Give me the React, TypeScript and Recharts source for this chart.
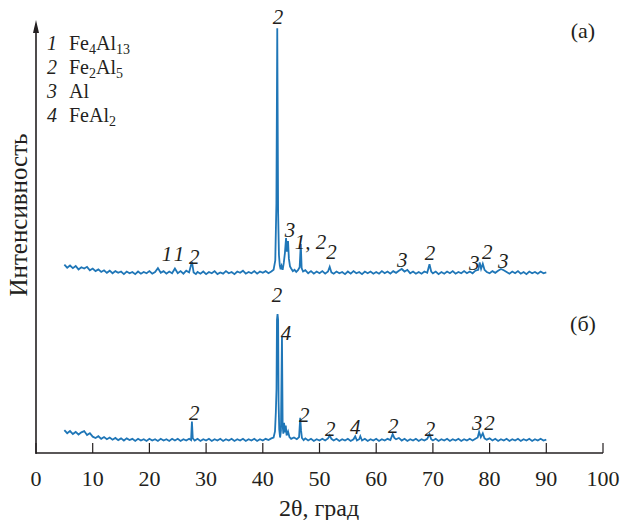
import React from "react";
import { LineChart, Line, XAxis, YAxis, ReferenceDot } from "recharts";

// 2θ (deg) and intensity (arb. units)
const traceA: [number, number][] = [
  [5,43.8],[5.5,43.1],[6,43.6],[6.5,43.0],[7,43.5],[7.5,42.7],[8,43.2],[8.5,42.9],[9,43.3],[9.5,42.5],[10,42.9],[10.5,42.3],[11,42.7],[11.5,42.1],[12,42.5],[12.5,41.9],[13,42.4],[13.5,41.8],[14,42.3],[14.5,41.9],[15,42.2],[15.5,41.6],[16,42.2],[16.5,41.8],[17,42.1],[17.5,41.6],[18,42.2],[18.5,41.7],[19,42.1],[19.5,41.8],[20,42.3],[20.5,41.7],[21,42.1],[21.5,43.0],[22,41.9],[22.5,42.3],[23,41.7],[23.5,42.2],[24,41.8],[24.5,42.9],[25,41.8],[25.5,42.3],[26,41.7],[26.5,42.4],[27,42.0],[27.5,44.5],[27.8,42.0],[28.2,41.6],[28.5,42.1],[29,41.7],[29.5,42.2],[30,41.6],[30.5,42.1],[31,41.8],[31.5,42.3],[32,41.6],[32.5,42.0],[33,41.7],[33.5,42.3],[34,41.8],[34.5,42.1],[35,41.6],[35.5,42.2],[36,41.9],[36.5,42.4],[37,41.7],[37.5,42.1],[38,41.8],[38.5,42.3],[39,41.7],[39.5,42.2],[40,41.9],[40.5,42.3],[41,41.8],[41.5,42.2],[41.9,42.6],[42.2,44.8],[42.4,58],[42.55,98.8],[42.7,56],[42.85,46],[43.0,43.6],[43.15,42.7],[43.3,43.5],[43.5,42.6],[43.7,44.2],[43.9,46.5],[44.1,50.0],[44.25,46.8],[44.45,49.3],[44.6,45.2],[44.8,43.4],[45.0,42.9],[45.3,42.3],[45.6,42.6],[45.9,42.1],[46.2,42.5],[46.5,43.2],[46.7,48.6],[46.85,43.0],[47.1,42.2],[47.5,42.5],[48,41.8],[48.5,42.3],[49,41.7],[49.5,42.2],[50,41.8],[50.5,42.3],[51,41.7],[51.5,42.2],[51.8,43.3],[52.1,42.0],[52.5,41.7],[53,42.2],[53.5,41.8],[54,42.1],[54.5,41.6],[55,42.2],[55.5,41.7],[56,42.3],[56.5,41.8],[57,42.1],[57.5,41.6],[58,42.2],[58.5,41.8],[59,42.2],[59.5,41.7],[60,42.1],[60.5,41.7],[61,42.3],[61.5,41.8],[62,42.2],[62.5,41.7],[63,42.3],[63.5,41.9],[64,42.4],[64.5,42.8],[65,42.2],[65.5,42.6],[66,41.8],[66.5,42.2],[67,41.7],[67.5,42.1],[68,41.7],[68.5,42.2],[69,41.9],[69.4,43.9],[69.7,42.2],[70,41.8],[70.5,42.2],[71,41.6],[71.5,42.1],[72,41.7],[72.5,42.2],[73,41.8],[73.5,42.3],[74,41.7],[74.5,42.1],[75,41.8],[75.5,42.3],[76,41.8],[76.5,42.2],[77,41.8],[77.5,42.4],[78,42.6],[78.25,44.3],[78.5,42.8],[78.8,44.0],[79.1,42.6],[79.5,42.1],[80,41.8],[80.5,42.3],[81,41.9],[81.5,42.4],[82,42.8],[82.5,42.5],[83,42.1],[83.5,41.7],[84,42.2],[84.5,41.8],[85,42.3],[85.5,41.7],[86,42.1],[86.5,41.6],[87,42.2],[87.5,41.8],[88,42.1],[88.5,41.7],[89,42.2],[89.5,41.8],[90,42.0]
];

const traceB: [number, number][] = [
  [5,5.3],[5.5,4.6],[6,5.1],[6.5,4.4],[7,4.9],[7.5,4.3],[8,4.8],[8.5,5.1],[9,4.2],[9.5,4.6],[10,3.8],[10.5,3.5],[11,3.9],[11.5,3.3],[12,3.7],[12.5,3.2],[13,3.6],[13.5,3.1],[14,3.5],[14.5,3.0],[15,3.4],[15.5,2.9],[16,3.4],[16.5,3.0],[17,3.3],[17.5,2.8],[18,3.3],[18.5,2.9],[19,3.2],[19.5,2.8],[20,3.3],[20.5,2.9],[21,3.2],[21.5,2.8],[22,3.3],[22.5,2.9],[23,3.2],[23.5,2.8],[24,3.3],[24.5,2.9],[25,3.3],[25.5,2.8],[26,3.2],[26.5,2.9],[27,3.3],[27.35,3.0],[27.5,7.3],[27.65,3.4],[28,2.9],[28.5,3.3],[29,2.8],[29.5,3.2],[30,2.9],[30.5,3.3],[31,2.8],[31.5,3.2],[32,2.9],[32.5,3.3],[33,2.8],[33.5,3.2],[34,2.9],[34.5,3.3],[35,2.8],[35.5,3.2],[36,2.9],[36.5,3.3],[37,2.8],[37.5,3.2],[38,2.9],[38.5,3.3],[39,2.8],[39.5,3.2],[40,2.9],[40.5,3.3],[41,3.0],[41.5,3.4],[41.9,3.6],[42.15,5.0],[42.3,9.5],[42.42,15],[42.5,31],[42.6,32.3],[42.7,31],[42.78,12],[42.9,5.5],[43.05,3.6],[43.2,5.2],[43.38,27.0],[43.5,6.5],[43.62,4.5],[43.75,7.0],[43.9,4.8],[44.05,6.4],[44.2,4.1],[44.45,5.0],[44.7,3.7],[45,3.3],[45.5,3.6],[46,3.2],[46.4,3.7],[46.6,8.2],[46.75,5.2],[46.9,3.5],[47.2,3.0],[47.5,3.4],[48,2.9],[48.5,3.3],[49,2.8],[49.5,3.2],[50,2.9],[50.5,3.3],[51,2.9],[51.5,3.4],[51.8,4.1],[52.1,3.3],[52.5,2.9],[53,3.3],[53.5,2.8],[54,3.2],[54.5,2.9],[55,3.3],[55.5,2.8],[56,3.2],[56.3,3.9],[56.6,2.9],[57,3.2],[57.2,3.9],[57.5,2.9],[58,3.3],[58.5,2.8],[59,3.2],[59.5,2.9],[60,3.3],[60.5,2.8],[61,3.2],[61.5,2.9],[62,3.3],[62.5,3.0],[62.9,4.4],[63.2,3.5],[63.5,3.2],[64,3.5],[64.5,2.9],[65,3.3],[65.5,2.8],[66,3.2],[66.5,2.9],[67,3.3],[67.5,2.8],[68,3.2],[68.5,2.9],[69,3.3],[69.4,4.4],[69.7,3.2],[70,2.9],[70.5,3.3],[71,2.8],[71.5,3.2],[72,2.9],[72.5,3.3],[73,2.8],[73.5,3.2],[74,2.9],[74.5,3.3],[75,2.8],[75.5,3.2],[76,2.9],[76.5,3.3],[77,2.9],[77.5,3.3],[77.9,3.6],[78.15,4.9],[78.45,3.7],[78.8,4.6],[79.1,3.4],[79.5,3.1],[80,3.4],[80.5,2.9],[81,3.3],[81.5,2.8],[82,3.2],[82.5,2.9],[83,3.3],[83.5,2.8],[84,3.2],[84.5,2.9],[85,3.3],[85.5,2.8],[86,3.2],[86.5,2.9],[87,3.3],[87.5,2.8],[88,3.2],[88.5,2.9],[89,3.3],[89.5,2.9],[90,3.1]
];

// peak labels: [2θ, intensity, phase number]
const peakLabelsA: [number, number, string][] = [
  [42.7, 101.4, "2"], [23.1, 46.3, "1"], [25.2, 46.3, "1"], [27.9, 45.6, "2"],
  [44.8, 51.9, "3"], [48.4, 49.1, "1, 2"], [52.1, 46.7, "2"], [64.6, 44.9, "3"],
  [69.5, 46.5, "2"], [77.3, 44.2, "3"], [79.6, 46.7, "2"], [82.4, 44.7, "3"]
];
const peakLabelsB: [number, number, string][] = [
  [42.5, 36.7, "2"], [44.1, 27.9, "4"], [27.9, 9.3, "2"], [47.3, 8.8, "2"],
  [51.9, 5.6, "2"], [56.3, 6.0, "4"], [63.0, 6.3, "2"], [69.5, 5.6, "2"],
  [77.8, 7.0, "3"], [80.0, 7.0, "2"]
];

const xTicks = [0, 10, 20, 30, 40, 50, 60, 70, 80, 90, 100];

const legendItems: { num: string; parts: [string, string][] }[] = [
  { num: "1", parts: [["Fe", ""], ["4", "sub"], ["Al", ""], ["13", "sub"]] },
  { num: "2", parts: [["Fe", ""], ["2", "sub"], ["Al", ""], ["5", "sub"]] },
  { num: "3", parts: [["Al", ""]] },
  { num: "4", parts: [["FeAl", ""], ["2", "sub"]] },
];

const dataA = traceA.map(([x, y]) => ({ x, y }));
const dataB = traceB.map(([x, y]) => ({ x, y }));
const allLabels = [...peakLabelsA, ...peakLabelsB];

const FONT = "Liberation Serif, DejaVu Serif, serif";
const LINE = "#1f76b7";
const INK = "#231f20";

const serif = (size: number, italic = false): React.CSSProperties => ({
  fontFamily: FONT,
  fontSize: size,
  fontStyle: italic ? "italic" : "normal",
});

const renderTick = (props: any) => {
  const { x, payload } = props;
  return (
    <text x={x} y={478} textAnchor="middle" dominantBaseline="central"
      style={serif(22)} fill={INK}>
      {payload.value}
    </text>
  );
};

export default function App() {
  return (
    <div style={{ position: "absolute", left: 0, top: 0, width: 624, height: 520, background: "#fff" }}>
      <LineChart width={624} height={520} margin={{ top: 23, right: 21, bottom: 0, left: 36 }}>
        <XAxis type="number" dataKey="x" domain={[0, 100]} ticks={xTicks}
          allowDataOverflow height={67}
          axisLine={{ stroke: INK, strokeWidth: 1.6 }}
          tickLine={{ stroke: INK, strokeWidth: 1.2 }} tickSize={-10}
          tick={renderTick} interval={0} />
        <YAxis type="number" domain={[0, 100]} hide />
        <Line data={dataA} dataKey="y" type="linear" dot={false} stroke={LINE}
          strokeWidth={1.8} strokeLinejoin="miter" isAnimationActive={false} />
        <Line data={dataB} dataKey="y" type="linear" dot={false} stroke={LINE}
          strokeWidth={1.8} strokeLinejoin="miter" isAnimationActive={false} />
        {allLabels.map(([x, y, t], i) => (
          <ReferenceDot key={i} x={x} y={y} r={0} ifOverflow="visible"
            shape={(p: any) => (
              <text x={p.cx} y={p.cy} textAnchor="middle" dominantBaseline="central"
                style={serif(21, true)} fill={INK}>
                {t}
              </text>
            )} />
        ))}
      </LineChart>
      <svg width={624} height={520} style={{ position: "absolute", left: 0, top: 0, pointerEvents: "none" }}>
        <line x1={36} y1={30} x2={36} y2={454} stroke={INK} strokeWidth={1.6} />
        <path d="M36 20 L33 33 L39 33 Z" fill={INK} />
        <text x={18} y={215} transform="rotate(-90 18 215)" textAnchor="middle" dominantBaseline="central"
          style={serif(25)} fill={INK}>Интенсивность</text>
        <text x={319} y={508} textAnchor="middle" dominantBaseline="central"
          style={serif(24)} fill={INK}>2θ, град</text>
        <text x={583} y={30} textAnchor="middle" dominantBaseline="central"
          style={serif(22)} fill={INK}>(а)</text>
        <text x={583} y={323} textAnchor="middle" dominantBaseline="central"
          style={serif(22)} fill={INK}>(б)</text>
        {legendItems.map((it, i) => (
          <g key={i}>
            <text x={52} y={50 + i * 24} textAnchor="middle" style={serif(20, true)} fill={INK}>{it.num}</text>
            <text x={69} y={50 + i * 24} style={serif(20)} fill={INK}>
              {it.parts.map(([s, k], j) =>
                k === "sub" ? (
                  <tspan key={j} style={{ fontSize: 14 }} dy={4}>{s}</tspan>
                ) : (
                  <tspan key={j} dy={j > 0 && it.parts[j - 1][1] === "sub" ? -4 : 0}>{s}</tspan>
                )
              )}
            </text>
          </g>
        ))}
      </svg>
    </div>
  );
}
